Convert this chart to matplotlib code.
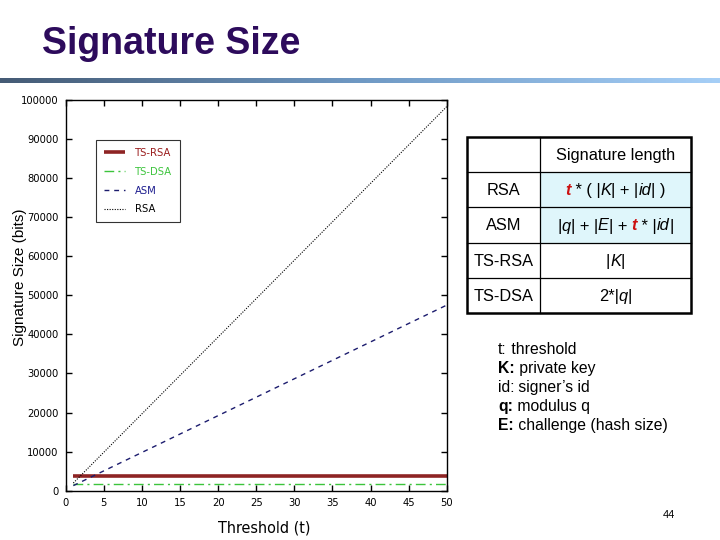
import numpy as np
import matplotlib
matplotlib.use("Agg")
import matplotlib.pyplot as plt
from matplotlib.colors import LinearSegmentedColormap
from matplotlib.patches import Rectangle
from matplotlib import font_manager

# ---- data ----
threshold = [1, 50]
rsa_vals = [1970, 98300]
asm_vals = [1300, 47500]
tsrsa_vals = [3750, 3750]
tsdsa_vals = [1800, 1800]
series_names = ["TS-RSA", "TS-DSA", "ASM", "RSA"]
x_ticks = list(range(0, 51, 5))
y_ticks = list(range(0, 100001, 10000))

table_rows = ["RSA", "ASM", "TS-RSA", "TS-DSA"]
table_header = "Signature length"
notes = [("t:", " threshold", False), ("K:", " private key", True),
         ("id:", " signer\u2019s id", False), ("q:", " modulus q", True),
         ("E:", " challenge (hash size)", True)]

W, H = 720, 540
fig = plt.figure(figsize=(7.2, 5.4), dpi=100)
fig.patch.set_facecolor("white")

def fx(px):
    return px / W

def fy(py):
    return 1 - py / H

SANS = ["Liberation Sans", "DejaVu Sans"]
names = {f.name for f in font_manager.fontManager.ttflist}
cond = [f for f in font_manager.fontManager.ttflist
        if f.name == "DejaVu Sans" and str(f.stretch) in ("condensed", "semi-condensed")
        and f.style == "normal" and f.weight in (400, "normal")]
if "Liberation Sans Narrow" in names:
    NARROW = dict(family="Liberation Sans Narrow")
elif cond:
    NARROW = dict(fname=cond[0].fname)
else:
    NARROW = dict(family="Liberation Sans")

def nprop(size):
    return font_manager.FontProperties(size=size, **NARROW)

# title
fig.text(fx(42), fy(44), "Signature Size", fontsize=27, fontweight="bold",
         color="#2d0b5c", family=SANS, va="center", ha="left")

# gradient rule
gax = fig.add_axes([0, fy(83.5), 1, 5.5 / H])
cmap = LinearSegmentedColormap.from_list("g", ["#455b75", "#6f99c4", "#a6cff7"])
gax.imshow(np.linspace(0, 1, 256)[None, :], aspect="auto", cmap=cmap)
gax.axis("off")

# main chart
ax = fig.add_axes([fx(65.7), fy(490.7), fx(446.7) - fx(65.7), fy(100) - fy(490.7)])
l1, = ax.plot(threshold, tsrsa_vals, color="#8e2424", lw=2.6, solid_capstyle="butt")
l2, = ax.plot(threshold, tsdsa_vals, color="#3cc43c", lw=1.0, dashes=(7, 3, 1.5, 3))
l3, = ax.plot(threshold, asm_vals, color="#1c1c6e", lw=1.0, dashes=(3.5, 3.5))
l4, = ax.plot(threshold, rsa_vals, color="black", lw=0.8, dashes=(1, 1.3))
ax.set_xlim(0, 50)
ax.set_ylim(0, 100000)
ax.set_xticks(x_ticks)
ax.set_yticks(y_ticks)
ax.tick_params(direction="in", length=4, width=1, top=True, right=True, pad=5)
for lab in ax.get_xticklabels() + ax.get_yticklabels():
    lab.set_fontproperties(nprop(8))
for s in ax.spines.values():
    s.set_linewidth(1.0)
fig.text(fx(264), fy(528), "Threshold (t)", ha="center", va="center",
         fontproperties=nprop(11.5))
fig.text(fx(20), fy(277), "Signature Size (bits)", rotation=90, fontsize=11,
         family=SANS, va="center", ha="center")

leg = ax.legend([l1, l2, l3, l4], series_names, loc="upper left",
                bbox_to_anchor=((96 - 65.7) / 381, 1 - (140 - 100) / 390.7),
                borderaxespad=0, frameon=True, fancybox=False, edgecolor="black",
                prop=nprop(8), handlelength=1.9, handletextpad=0.9,
                borderpad=0.7, labelspacing=0.8)
leg.get_frame().set_linewidth(0.8)
for txt, c in zip(leg.get_texts(), ["#9a1c1c", "#3cc43c", "#1c1c8e", "black"]):
    txt.set_color(c)

# table
tx0, ty0, tx1, ty1 = 467, 137, 691, 313
tax = fig.add_axes([fx(tx0), fy(ty1), fx(tx1) - fx(tx0), fy(ty0) - fy(ty1)])
tax.set_xlim(tx0, tx1)
tax.set_ylim(ty1, ty0)
tax.axis("off")
colx = 540
row_edges = [137, 172, 207, 243, 278, 313]
for i in (1, 2):
    tax.add_patch(Rectangle((colx, row_edges[i]), tx1 - colx,
                            row_edges[i + 1] - row_edges[i],
                            facecolor="#dff6fb", edgecolor="none"))
for y in row_edges[1:-1]:
    tax.plot([tx0, tx1], [y, y], color="black", lw=0.9, clip_on=False)
tax.plot([colx, colx], [ty0, ty1], color="black", lw=0.9, clip_on=False)
tax.add_patch(Rectangle((tx0, ty0), tx1 - tx0, ty1 - ty0, facecolor="none",
                        edgecolor="black", lw=1.8, clip_on=False))
FS = 11.8
tax.text((colx + tx1) / 2, (row_edges[0] + row_edges[1]) / 2 + 1, table_header,
         ha="center", va="center", fontsize=FS, family=SANS)
for i, name in enumerate(table_rows):
    tax.text((tx0 + colx) / 2, (row_edges[i + 1] + row_edges[i + 2]) / 2 + 1,
             name, ha="center", va="center", fontsize=FS, family=SANS)

n = dict(color="black")
it = dict(color="black", style="italic")
bt = dict(color="#cc1111", weight="bold", style="italic")
formulas = [
    [("t", bt), (" * ( |", n), ("K", it), ("| + |", n), ("id", it), ("| )", n)],
    [("|", n), ("q", it), ("| + |", n), ("E", it), ("| + ", n), ("t", bt),
     (" * |", n), ("id", it), ("|", n)],
    [("|", n), ("K", it), ("|", n)],
    [("2*|", n), ("q", it), ("|", n)],
]

fig.canvas.draw()
renderer = fig.canvas.get_renderer()
for i, pieces in enumerate(formulas):
    yc = (row_edges[i + 1] + row_edges[i + 2]) / 2 + 1
    texts = []
    widths = []
    for s, st in pieces:
        t = fig.text(0, 0, s, fontsize=FS, family=SANS, **st)
        w = t.get_window_extent(renderer).width
        texts.append(t)
        widths.append(w)
    total = sum(widths)
    x = (colx + tx1) / 2 - total / 2
    for t, w in zip(texts, widths):
        t.set_position((fx(x), fy(yc)))
        t.set_va("center")
        t.set_ha("left")
        x += w

# notes
for k, (key, rest, bold) in enumerate(notes):
    y = 350 + 18.8 * k
    t = fig.text(fx(498), fy(y), key, fontsize=11.3, family=SANS,
                 fontweight="bold" if bold else "normal", va="center")
    w = t.get_window_extent(renderer).width
    fig.text(fx(498 + w), fy(y), rest, fontsize=11.3, family=SANS, va="center")

fig.text(fx(669), fy(515), "44", fontsize=8, family=SANS, ha="center", va="center")

fig.savefig("out.png", dpi=100)
